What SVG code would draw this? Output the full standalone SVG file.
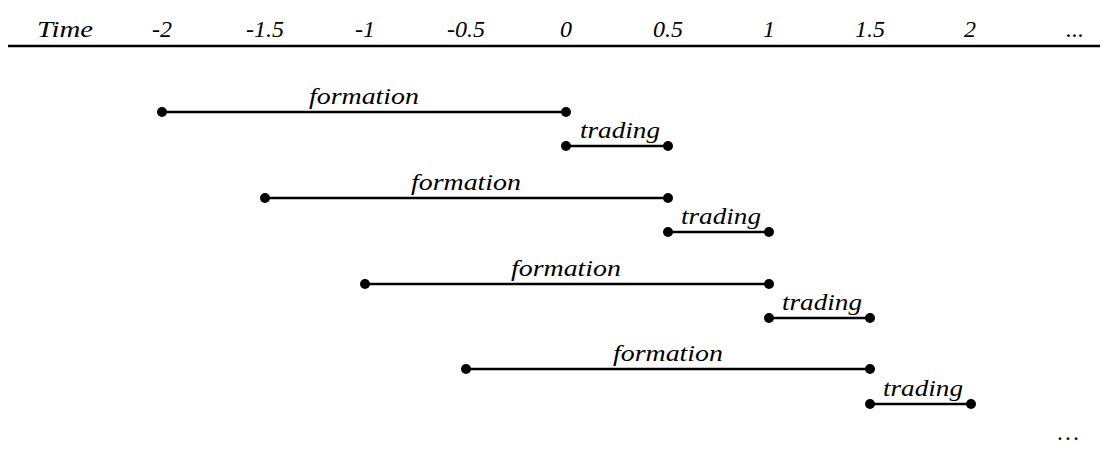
<svg xmlns="http://www.w3.org/2000/svg" width="1108" height="452" viewBox="0 0 1108 452">
<style>
.t{fill:#000;text-anchor:middle}
.seg{stroke:#000;stroke-width:2.6;fill:none}
.dot{fill:#000}
</style>
<rect width="1108" height="452" fill="#fff"/>
<g font-family="Liberation Serif, serif" font-style="italic" font-size="24">
<g id="header">
<text class="t" x="65" y="37" textLength="56" lengthAdjust="spacingAndGlyphs">Time</text>
<text class="t" x="162" y="37">-2</text>
<text class="t" x="265" y="37">-1.5</text>
<text class="t" x="365" y="37">-1</text>
<text class="t" x="466" y="37">-0.5</text>
<text class="t" x="566" y="37">0</text>
<text class="t" x="668" y="37">0.5</text>
<text class="t" x="769" y="37">1</text>
<text class="t" x="870" y="37">1.5</text>
<text class="t" x="970" y="37">2</text>
<text class="t" x="1075" y="37">...</text>
<line x1="8" y1="46" x2="1100" y2="46" stroke="#000" stroke-width="2.6"/>
</g>
<g id="connectors">
<line class="seg" x1="162" y1="112" x2="566" y2="112"/>
<line class="seg" x1="566" y1="146" x2="668" y2="146"/>
<line class="seg" x1="265" y1="198" x2="668" y2="198"/>
<line class="seg" x1="668" y1="232" x2="769" y2="232"/>
<line class="seg" x1="365" y1="284" x2="769" y2="284"/>
<line class="seg" x1="769" y1="318" x2="870" y2="318"/>
<line class="seg" x1="466" y1="369" x2="870" y2="369"/>
<line class="seg" x1="870" y1="404" x2="971" y2="404"/>
</g>
<g id="formation1"><circle class="dot" cx="162" cy="112" r="5"/><circle class="dot" cx="566" cy="112" r="5"/><text class="t" x="364" y="104" textLength="110" lengthAdjust="spacingAndGlyphs">formation</text></g>
<g id="trading1"><circle class="dot" cx="566" cy="146" r="5"/><circle class="dot" cx="668" cy="146" r="5"/><text class="t" x="620" y="138" textLength="80" lengthAdjust="spacingAndGlyphs">trading</text></g>
<g id="formation2"><circle class="dot" cx="265" cy="198" r="5"/><circle class="dot" cx="668" cy="198" r="5"/><text class="t" x="466" y="190" textLength="110" lengthAdjust="spacingAndGlyphs">formation</text></g>
<g id="trading2"><circle class="dot" cx="668" cy="232" r="5"/><circle class="dot" cx="769" cy="232" r="5"/><text class="t" x="721" y="224" textLength="80" lengthAdjust="spacingAndGlyphs">trading</text></g>
<g id="formation3"><circle class="dot" cx="365" cy="284" r="5"/><circle class="dot" cx="769" cy="284" r="5"/><text class="t" x="566" y="276" textLength="110" lengthAdjust="spacingAndGlyphs">formation</text></g>
<g id="trading3"><circle class="dot" cx="769" cy="318" r="5"/><circle class="dot" cx="870" cy="318" r="5"/><text class="t" x="822" y="310" textLength="80" lengthAdjust="spacingAndGlyphs">trading</text></g>
<g id="formation4"><circle class="dot" cx="466" cy="369" r="5"/><circle class="dot" cx="870" cy="369" r="5"/><text class="t" x="668" y="361" textLength="110" lengthAdjust="spacingAndGlyphs">formation</text></g>
<g id="trading4"><circle class="dot" cx="870" cy="404" r="5"/><circle class="dot" cx="971" cy="404" r="5"/><text class="t" x="923" y="396" textLength="80" lengthAdjust="spacingAndGlyphs">trading</text></g>
<g id="ellipsis"><text class="t" x="1068" y="440" font-style="normal">…</text></g>
</g>
</svg>
